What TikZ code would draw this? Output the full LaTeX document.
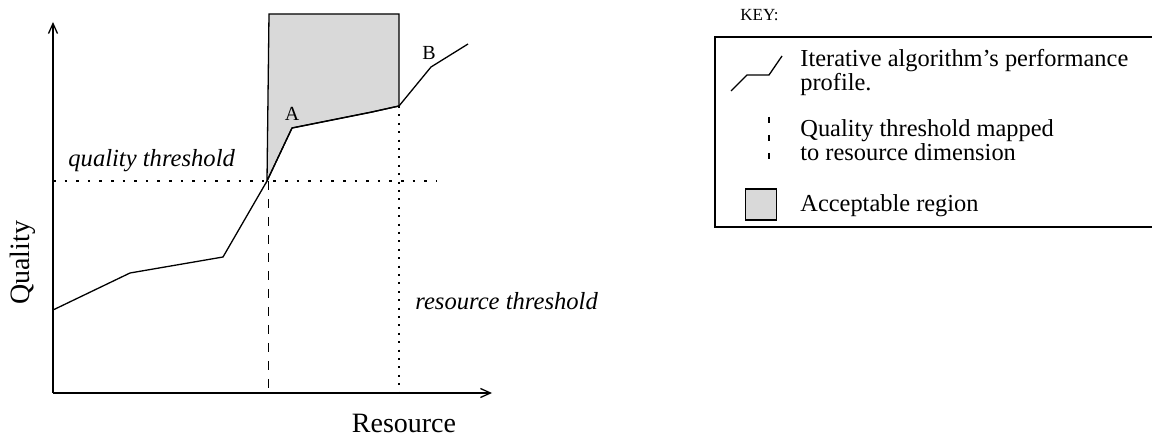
\documentclass[tikz,border=0pt]{standalone}
\usepackage{fontspec}
\setmainfont{Liberation Serif}
\usetikzlibrary{arrows.meta}
\begin{document}
\begin{tikzpicture}[x=0.5pt,y=-0.5pt,
  curve/.style={line width=0.65pt,line join=miter},
  axis/.style={line width=0.65pt,-{Straight Barb[length=5pt,width=4.5pt]}},
  qdots/.style={line width=0.7pt,dash pattern=on 1.3pt off 4.5pt},
  rdots/.style={line width=0.7pt,dash pattern=on 1pt off 3.2pt},
  mapdash/.style={line width=0.75pt,dash pattern=on 4.5pt off 4.5pt},
  keydash/.style={line width=0.65pt,dash pattern=on 3pt off 6pt},
  region/.style={fill=black!15,draw=black,line width=0.65pt},
  big/.style={font=\fontsize{14}{16}\selectfont,inner sep=0pt},
  itl/.style={font=\fontsize{12.3}{14}\selectfont\itshape,inner sep=0pt},
  pt/.style={font=\fontsize{10}{12}\selectfont,inner sep=0pt},
  keytxt/.style={font=\fontsize{12.2}{13}\selectfont,inner sep=0pt,anchor=base west},
]
\useasboundingbox (0,0) rectangle (1152,438);

% profile vertices
\coordinate (p0) at (53,310);
\coordinate (p1) at (130,273);
\coordinate (p2) at (223,257);
\coordinate (p3) at (267,181);
\coordinate (p4) at (292,128);
\coordinate (p5) at (372,112);
\coordinate (p6) at (399,106);
\coordinate (p7) at (431,67);
\coordinate (p8) at (468,44);

% acceptable region
\coordinate (r0) at (269,14);
\coordinate (r1) at (399,14);
\path[region] (r0) -- (r1) -- (p6) -- (p5) -- (p4) -- (p3) -- cycle;

% axes
\coordinate (o) at (53,393);
\coordinate (ytop) at (53,22);
\coordinate (xend) at (492,393);
\draw[axis] (o) -- (ytop);
\draw[axis] (o) -- (xend);

% thresholds
\coordinate (q0) at (53,181);
\coordinate (q1) at (436,181);
\draw[qdots] (q0) -- (q1);
\coordinate (d0) at (268.5,181);
\coordinate (d1) at (268.5,389);
\draw[mapdash] (d0) -- (d1);
\coordinate (v1) at (399,392);
\draw[rdots] (p6) -- (v1);

% performance profile
\draw[curve] (p0) -- (p1) -- (p2) -- (p3) -- (p4) -- (p5) -- (p6) -- (p7) -- (p8);

% labels
\node[pt,anchor=base] (la) at (292,121) {A};
\node[pt,anchor=base] (lb) at (429,60) {B};
\node[itl,anchor=base west] (lq) at (68,167) {quality threshold};
\node[itl,anchor=base west] (lr) at (415,310) {resource threshold};
\node[big,anchor=base] (lx) at (404,432) {Resource};
\node[big,anchor=base,rotate=90] (ly) at (29,263) {Quality};

% key
\node[font=\fontsize{8.5}{10}\selectfont,inner sep=0pt,anchor=base west] (key) at (740,21) {KEY:};
\coordinate (k0) at (1156,37);
\coordinate (k1) at (715,37);
\coordinate (k2) at (715,227);
\coordinate (k3) at (1156,227);
\draw[line width=0.65pt] (k0) -- (k1) -- (k2) -- (k3);

\coordinate (s0) at (731,91);
\coordinate (s1) at (747,75);
\coordinate (s2) at (769,75);
\coordinate (s3) at (782,56);
\draw[curve] (s0) -- (s1) -- (s2) -- (s3);
\node[keytxt] (t1) at (800,67) {Iterative algorithm's performance};
\node[keytxt] (t2) at (800,91) {profile.};

\coordinate (m0) at (769,117);
\coordinate (m1) at (769,160);
\draw[keydash] (m0) -- (m1);
\node[keytxt] (t3) at (800,137) {Quality threshold mapped};
\node[keytxt] (t4) at (800,161) {to resource dimension};

\node[region,minimum width=15.5pt,minimum height=15.5pt,inner sep=0pt] (sq) at (761,204.5) {};
\node[keytxt] (t5) at (800,212) {Acceptable region};
\end{tikzpicture}
\end{document}
